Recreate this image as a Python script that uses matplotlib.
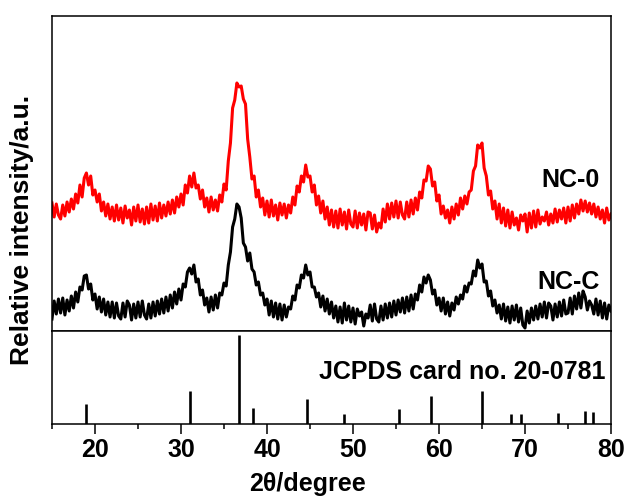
#!/usr/bin/env python3

import numpy as np
import matplotlib
matplotlib.use("Agg")
import matplotlib.pyplot as plt


##### step 1: data #####
# 2theta grid of the measured patterns (0.25 degree steps, 15 to 80)
TWO_THETA = np.arange(15.0, 80.001, 0.25)

# NC-0 pattern (offset intensity, a.u.), one row per degree
NC0 = [
    128, 114, 127, 116,
    112, 126, 115, 129,
    119, 132, 122, 137,
    128, 146, 134, 153,
    158, 146, 155, 136,
    141, 129, 137, 120,
    129, 115, 127, 112,
    124, 110, 126, 111,
    123, 108, 125, 113,
    121, 106, 124, 110,
    126, 109, 122, 107,
    124, 108, 127, 111,
    125, 110, 128, 113,
    126, 115, 129, 117,
    131, 118, 134, 124,
    137, 126, 146, 138,
    155, 144, 158, 143,
    146, 132, 141, 124,
    133, 119, 134, 121,
    131, 120, 136, 129,
    147, 141, 170, 188,
    223, 231, 248, 244,
    245, 232, 227, 192,
    174, 152, 155, 134,
    141, 124, 133, 116,
    130, 114, 131, 115,
    126, 111, 128, 116,
    127, 113, 126, 118,
    134, 126, 145, 139,
    155, 149, 166, 154,
    155, 139, 146, 126,
    135, 118, 130, 112,
    124, 106, 121, 104,
    120, 103, 122, 106,
    119, 102, 121, 107,
    104, 120, 103, 118,
    106, 117, 101, 119,
    118, 102, 116, 99,
    108, 103, 122, 109,
    127, 112, 128, 114,
    130, 113, 129, 116,
    112, 129, 114, 131,
    117, 133, 121, 139,
    133, 151, 150, 165,
    162, 145, 149, 130,
    136, 117, 125, 113,
    121, 108, 124, 112,
    127, 116, 133, 122,
    135, 127, 139, 141,
    160, 165, 186, 183,
    188, 163, 155, 136,
    140, 122, 130, 112,
    127, 108, 123, 105,
    121, 103, 119, 106,
    113, 101, 116, 110,
    117, 99, 118, 103,
    120, 104, 121, 107,
    114, 110, 119, 106,
    117, 108, 122, 109,
    121, 112, 123, 108,
    124, 110, 126, 113,
    127, 117, 131, 120,
    130, 119, 128, 117,
    127, 114, 124, 112,
    121, 108, 123, 111,
    117,
]

# NC-C pattern (offset intensity, a.u.)
NCC = [
    12, 30, 17, 32,
    18, 33, 16, 31,
    20, 35, 23, 39,
    29, 44, 41, 55,
    56, 42, 47, 31,
    37, 22, 34, 19,
    32, 16, 29, 14,
    29, 13, 28, 15,
    12, 28, 14, 30,
    26, 11, 27, 13,
    29, 14, 30, 16,
    12, 27, 13, 29,
    15, 30, 17, 32,
    18, 34, 20, 36,
    23, 39, 27, 42,
    31, 47, 44, 59,
    63, 57, 66, 49,
    52, 36, 41, 26,
    33, 19, 34, 21,
    36, 23, 38, 36,
    48, 45, 66, 79,
    104, 112, 127, 124,
    113, 88, 84, 70,
    78, 62, 59, 46,
    49, 36, 38, 26,
    32, 16, 30, 14,
    28, 12, 27, 11,
    26, 14, 24, 22,
    35, 31, 46, 43,
    56, 53, 66, 56,
    59, 44, 44, 34,
    38, 24, 35, 20,
    32, 17, 29, 13,
    25, 9, 24, 8,
    28, 11, 25, 9,
    23, 7, 22, 15,
    19, 5, 17, 13,
    26, 10, 27, 12,
    9, 25, 11, 27,
    13, 28, 14, 30,
    16, 31, 19, 33,
    18, 34, 20, 36,
    22, 37, 31, 46,
    39, 54, 48, 56,
    51, 37, 41, 26,
    33, 20, 33, 17,
    29, 15, 28, 21,
    34, 27, 36, 32,
    45, 39, 48, 47,
    60, 55, 71, 63,
    67, 49, 50, 35,
    40, 25, 31, 18,
    26, 12, 27, 10,
    24, 8, 25, 11,
    26, 9, 23, 6,
    3, 20, 8, 23,
    11, 25, 12, 27,
    14, 29, 13, 28,
    25, 11, 27, 14,
    29, 15, 31, 17,
    18, 33, 17, 35,
    22, 38, 23, 40,
    34, 21, 30, 26,
    17, 32, 16, 30,
    13, 28, 12, 26,
    20,
]

# JCPDS card no. 20-0781 reference lines
REF_POS = [18.9, 31.1, 36.7, 38.4, 44.6, 48.9, 55.4, 59.1, 65.0, 68.4, 69.5, 73.8, 77.0, 77.9]
REF_INT = [22, 37, 100, 18, 28, 11, 17, 31, 37, 11, 11, 12, 15, 13]

XTICKS = [20, 30, 40, 50, 60, 70, 80]


##### step 2: figure #####
plt.rcParams["font.family"] = ["Liberation Sans", "DejaVu Sans"]
plt.rcParams["font.weight"] = "bold"

W, H = 624, 496
fig = plt.figure(figsize=(W / 100, H / 100), dpi=100)

left, right = 52 / W, 611 / W
y_top, y_mid, y_bot = 1 - 16 / H, 1 - 331 / H, 1 - 424 / H

ax_top = fig.add_axes([left, y_mid, right - left, y_top - y_mid])
ax_bot = fig.add_axes([left, y_bot, right - left, y_mid - y_bot], sharex=ax_top)

##### step 3: patterns #####
ax_top.plot(TWO_THETA, NC0, color="#ff0000", linewidth=2.2)
ax_top.plot(TWO_THETA, NCC, color="black", linewidth=2.2)
ax_top.set_ylim(0, 315)
ax_top.set_xlim(15, 80)
ax_top.tick_params(axis="both", which="both", left=False, bottom=False,
                   labelleft=False, labelbottom=False)

ax_top.text(78.7, 151, "NC-0", ha="right", va="center", fontsize=18, fontweight="bold")
ax_top.text(78.7, 49, "NC-C", ha="right", va="center", fontsize=18, fontweight="bold")

##### step 4: reference sticks #####
ax_bot.vlines(REF_POS, 0, REF_INT, color="black", linewidth=1.9)
ax_bot.set_ylim(0, 104.5)
ax_bot.set_yticks([])
ax_bot.set_xticks(XTICKS)
ax_bot.set_xticks(np.arange(15, 81, 5), minor=True)
ax_bot.tick_params(axis="x", which="major", direction="out", length=7, width=1.1,
                   labelsize=18, pad=3)
ax_bot.tick_params(axis="x", which="minor", direction="out", length=3.5, width=1.1)
for lab in ax_bot.get_xticklabels():
    lab.set_fontweight("bold")

ax_bot.text(79.4, 58, "JCPDS card no. 20-0781", ha="right", va="center",
            fontsize=18, fontweight="bold")

for ax in (ax_top, ax_bot):
    for sp in ax.spines.values():
        sp.set_linewidth(1.1)

##### step 5: axis labels #####
fig.text(22 / W, 1 - 230 / H, "Relative intensity/a.u.", rotation=90,
         ha="center", va="center", fontsize=19, fontweight="bold")
fig.text(307 / W, 1 - 484 / H, "2\u03b8/degree", ha="center", va="center",
         fontsize=18, fontweight="bold")

fig.savefig("out.png", dpi=100)
plt.close(fig)
